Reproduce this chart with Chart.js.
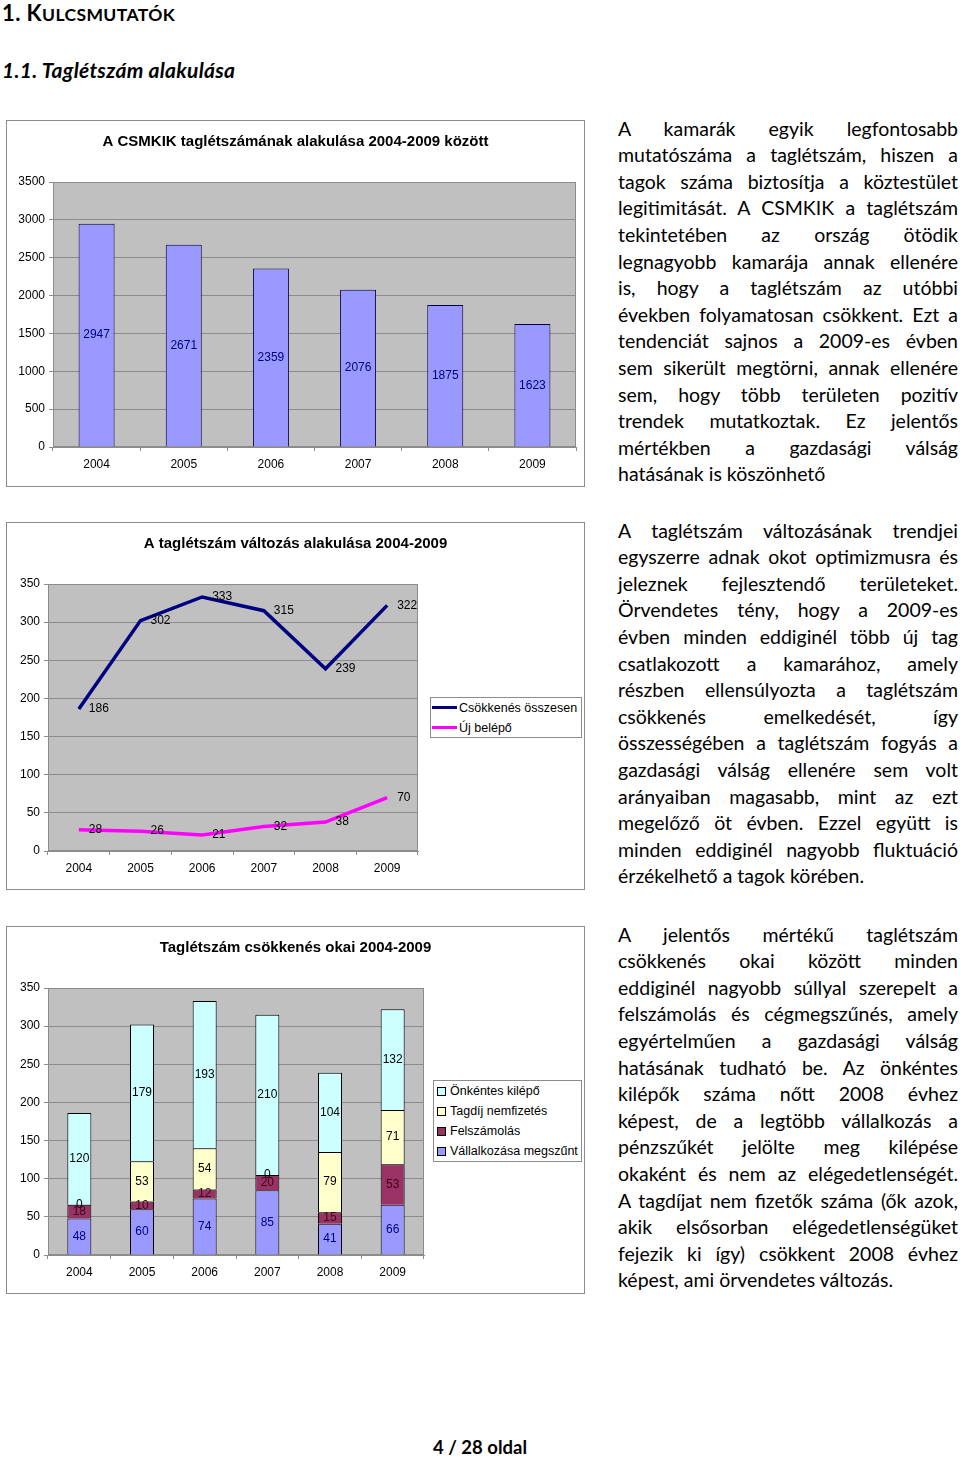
<!DOCTYPE html>
<html>
<head>
<meta charset="utf-8">
<title>Taglétszám alakulása</title>
<script src="https://cdn.jsdelivr.net/npm/chart.js@4.4.0/dist/chart.umd.min.js"></script>
<style>
  body { margin: 0; width: 960px; height: 1459px; position: relative; background: #fff; font-family: Lato, "Open Sans", sans-serif; color: #000; overflow: hidden; }
  .h { position: absolute; left: 2px; font-weight: bold; line-height: 26px; white-space: nowrap; }
  .h1 { top: 0px; font-size: 22px; letter-spacing: 0.4px; }
  .h1 .sc { font-size: 17.5px; }
  .h2 { top: 57px; font-size: 21px; font-style: italic; letter-spacing: 0.3px; }
  .box { position: absolute; left: 6px; width: 577px; border: 1px solid #8c8c8c; background: #fff; }
  .txt { position: absolute; left: 618px; width: 340px; font-size: 19.5px; line-height: 26.6px; }
  .txt div { text-align: justify; text-align-last: justify; white-space: nowrap; }
  .txt div.last { text-align-last: left; }
  .leg { position: absolute; border: 1px solid #8c8c8c; background: #fff; font: 12.5px "Liberation Sans", Arial, sans-serif; }
  .leg .it { position: absolute; left: 0; height: 20px; line-height: 20px; white-space: nowrap; }
  .leg .sw { position: absolute; top: 50%; }
  .foot { position: absolute; left: 0; width: 960px; top: 1435px; text-align: center; font-weight: bold; font-size: 18.5px; line-height: 24px; }
</style>
</head>
<body>
<div class="h h1">1. K<span class="sc">ULCSMUTATÓK</span></div>
<div class="h h2">1.1. Taglétszám alakulása</div>

<div class="box" style="top:120px;height:365px"><canvas id="c1"></canvas></div>
<div class="box" style="top:522px;height:366px"><canvas id="c2"></canvas></div>
<div class="box" style="top:926px;height:366px"><canvas id="c3"></canvas></div>
<div class="leg" id="leg2" style="left:430px;top:697px;width:150px;height:39px"></div>
<div class="leg" id="leg3" style="left:433px;top:1080px;width:147px;height:80px"></div>

<div class="txt" style="top:115.7px">
  <div>A kamarák egyik legfontosabb</div>
  <div>mutatószáma a taglétszám, hiszen a</div>
  <div>tagok száma biztosítja a köztestület</div>
  <div>legitimitását. A CSMKIK a taglétszám</div>
  <div>tekintetében az ország ötödik</div>
  <div>legnagyobb kamarája annak ellenére</div>
  <div>is, hogy a taglétszám az utóbbi</div>
  <div>években folyamatosan csökkent. Ezt a</div>
  <div>tendenciát sajnos a 2009-es évben</div>
  <div>sem sikerült megtörni, annak ellenére</div>
  <div>sem, hogy több területen pozitív</div>
  <div>trendek mutatkoztak. Ez jelentős</div>
  <div>mértékben a gazdasági válság</div>
  <div class="last">hatásának is köszönhető</div>
</div>

<div class="txt" style="top:517.7px">
  <div>A taglétszám változásának trendjei</div>
  <div>egyszerre adnak okot optimizmusra és</div>
  <div>jeleznek fejlesztendő területeket.</div>
  <div>Örvendetes tény, hogy a 2009-es</div>
  <div>évben minden eddiginél több új tag</div>
  <div>csatlakozott a kamarához, amely</div>
  <div>részben ellensúlyozta a taglétszám</div>
  <div>csökkenés emelkedését, így</div>
  <div>összességében a taglétszám fogyás a</div>
  <div>gazdasági válság ellenére sem volt</div>
  <div>arányaiban magasabb, mint az ezt</div>
  <div>megelőző öt évben. Ezzel együtt is</div>
  <div>minden eddiginél nagyobb fluktuáció</div>
  <div class="last">érzékelhető a tagok körében.</div>
</div>

<div class="txt" style="top:921.7px">
  <div>A jelentős mértékű taglétszám</div>
  <div>csökkenés okai között minden</div>
  <div>eddiginél nagyobb súllyal szerepelt a</div>
  <div>felszámolás és cégmegszűnés, amely</div>
  <div>egyértelműen a gazdasági válság</div>
  <div>hatásának tudható be. Az önkéntes</div>
  <div>kilépők száma nőtt 2008 évhez</div>
  <div>képest, de a legtöbb vállalkozás a</div>
  <div>pénzszűkét jelölte meg kilépése</div>
  <div>okaként és nem az elégedetlenségét.</div>
  <div>A tagdíjat nem fizetők száma (ők azok,</div>
  <div>akik elsősorban elégedetlenségüket</div>
  <div>fejezik ki így) csökkent 2008 évhez</div>
  <div class="last">képest, ami örvendetes változás.</div>
</div>

<div class="foot">4 / 28 oldal</div>

<script>
const years = ['2004', '2005', '2006', '2007', '2008', '2009'];

// 1. taglétszám
const members = [2947, 2671, 2359, 2076, 1875, 1623];

// 2. változás
const totalDecrease = [186, 302, 333, 315, 239, 322];
const newMembers = [28, 26, 21, 32, 38, 70];

// 3. csökkenés okai
const closedBusiness = [48, 60, 74, 85, 41, 66];
const liquidation = [18, 10, 12, 20, 15, 53];
const unpaidFee = [0, 53, 54, 0, 79, 71];
const voluntaryExit = [120, 179, 193, 210, 104, 132];

const FONT = '"Liberation Sans", Arial, sans-serif';
const GRID = '#8c8c8c';
Chart.defaults.font.family = FONT;
Chart.defaults.color = '#000';

// szürke plot area + keret
const plotBg = {
  id: 'plotBg',
  beforeDraw(chart) {
    const { ctx, chartArea: a } = chart;
    ctx.save();
    ctx.fillStyle = '#c0c0c0';
    ctx.fillRect(a.left, a.top, a.width, a.height);
    ctx.restore();
  },
  beforeDatasetsDraw(chart) {
    const { ctx, chartArea: a } = chart;
    ctx.save();
    ctx.strokeStyle = GRID;
    ctx.lineWidth = 1;
    ctx.strokeRect(a.left + 0.5, a.top + 0.5, a.width - 1, a.height - 1);
    ctx.restore();
  }
};

// értékcímkék
const valueLabels = {
  id: 'valueLabels',
  afterDatasetsDraw(chart) {
    const ctx = chart.ctx;
    ctx.save();
    ctx.font = '12px ' + FONT;
    ctx.textBaseline = 'middle';
    chart.data.datasets.forEach((ds, i) => {
      const meta = chart.getDatasetMeta(i);
      ctx.fillStyle = ds.labelColor || '#000';
      meta.data.forEach((el, j) => {
        const v = ds.data[j];
        if (meta.type === 'line') {
          ctx.textAlign = 'left';
          ctx.fillText(v, el.x + 10, el.y);
        } else {
          ctx.textAlign = 'center';
          ctx.fillText(v, el.x, (el.y + el.base) / 2);
        }
      });
    });
    ctx.restore();
  }
};

function titleOpts(text) {
  return {
    display: true,
    text: text,
    color: '#000',
    font: { size: 15, weight: 'bold', family: FONT },
    padding: { top: 12, bottom: 31 }
  };
}

function xScale(height) {
  return {
    offset: true,
    grid: { offset: true, drawOnChartArea: false, color: GRID, tickLength: 4 },
    border: { color: GRID },
    ticks: { font: { size: 12 }, padding: 6, maxRotation: 0 },
    afterFit(s) { s.height = height; }
  };
}

function yScale(max, step, width, stacked) {
  return {
    min: 0,
    max: max,
    stacked: stacked,
    grid: { color: GRID, tickLength: 4 },
    border: { color: GRID },
    ticks: { stepSize: step, font: { size: 12 }, padding: 4, callback: v => String(v) },
    afterFit(s) { s.width = width; }
  };
}

// üres jobb oldali sáv (a jelmagyarázatnak), hogy a cím a teljes dobozon legyen középen
function rightPad(width) {
  return {
    type: 'linear',
    position: 'right',
    grid: { display: false, drawTicks: false },
    border: { display: false },
    ticks: { display: false },
    afterFit(s) { s.width = width; }
  };
}

// 1. chart
new Chart(document.getElementById('c1'), {
  type: 'bar',
  data: {
    labels: years,
    datasets: [{
      data: members,
      backgroundColor: '#9999ff',
      borderColor: '#000040',
      borderWidth: 1,
      labelColor: '#000080',
      categoryPercentage: 1,
      barPercentage: 0.413
    }]
  },
  options: {
    responsive: true,
    maintainAspectRatio: false,
    animation: false,
    layout: { padding: 0 },
    plugins: {
      legend: { display: false },
      tooltip: { enabled: false },
      title: titleOpts('A CSMKIK taglétszámának alakulása 2004-2009 között')
    },
    scales: {
      x: xScale(39),
      y: yScale(3500, 500, 46, false),
      pad: rightPad(8)
    }
  },
  plugins: [plotBg, valueLabels]
});

// 2. chart
const chart2 = new Chart(document.getElementById('c2'), {
  type: 'line',
  data: {
    labels: years,
    datasets: [
      {
        label: 'Csökkenés összesen',
        data: totalDecrease,
        borderColor: '#000080',
        backgroundColor: '#000080',
        borderWidth: 3.5,
        pointRadius: 0,
        tension: 0
      },
      {
        label: 'Új belépő',
        data: newMembers,
        borderColor: '#ff00ff',
        backgroundColor: '#ff00ff',
        borderWidth: 3.5,
        pointRadius: 0,
        tension: 0
      }
    ]
  },
  options: {
    responsive: true,
    maintainAspectRatio: false,
    animation: false,
    layout: { padding: 0 },
    plugins: {
      legend: { display: false },
      tooltip: { enabled: false },
      title: titleOpts('A taglétszám változás alakulása 2004-2009')
    },
    scales: {
      x: xScale(38),
      y: yScale(350, 50, 41, false),
      pad: rightPad(166)
    }
  },
  plugins: [plotBg, valueLabels]
});

// 3. chart
const chart3 = new Chart(document.getElementById('c3'), {
  type: 'bar',
  data: {
    labels: years,
    datasets: [
      { label: 'Vállalkozása megszűnt', data: closedBusiness, backgroundColor: '#9999ff', labelColor: '#000080' },
      { label: 'Felszámolás', data: liquidation, backgroundColor: '#993366', labelColor: '#400018' },
      { label: 'Tagdíj nemfizetés', data: unpaidFee, backgroundColor: '#ffffcc', labelColor: '#000' },
      { label: 'Önkéntes kilépő', data: voluntaryExit, backgroundColor: '#ccffff', labelColor: '#000' }
    ].map(d => Object.assign(d, {
      borderColor: '#000',
      borderWidth: 1,
      categoryPercentage: 1,
      barPercentage: 0.383
    }))
  },
  options: {
    responsive: true,
    maintainAspectRatio: false,
    animation: false,
    layout: { padding: 0 },
    plugins: {
      legend: { display: false },
      tooltip: { enabled: false },
      title: titleOpts('Taglétszám csökkenés okai 2004-2009')
    },
    scales: {
      x: Object.assign(xScale(38), { stacked: true }),
      y: yScale(350, 50, 41, true),
      pad: rightPad(160)
    }
  },
  plugins: [plotBg, valueLabels]
});

// HTML jelmagyarázatok
function buildLegend(el, chart, reverse, lineStyle) {
  const ds = chart.data.datasets.slice();
  if (reverse) ds.reverse();
  ds.forEach((d, i) => {
    const it = document.createElement('div');
    it.className = 'it';
    it.style.top = i * 20 + 'px';
    const sw = document.createElement('span');
    sw.className = 'sw';
    if (lineStyle) {
      Object.assign(sw.style, { left: '1px', width: '25px', height: '3px', marginTop: '-2px', background: d.borderColor });
      it.style.paddingLeft = '28px';
    } else {
      Object.assign(sw.style, { left: '3px', width: '7px', height: '7px', marginTop: '-4px', background: d.backgroundColor, border: '1px solid #000' });
      it.style.paddingLeft = '16px';
    }
    it.appendChild(sw);
    it.appendChild(document.createTextNode(d.label));
    el.appendChild(it);
  });
}
buildLegend(document.getElementById('leg2'), chart2, false, true);
buildLegend(document.getElementById('leg3'), chart3, true, false);
</script>
</body>
</html>
